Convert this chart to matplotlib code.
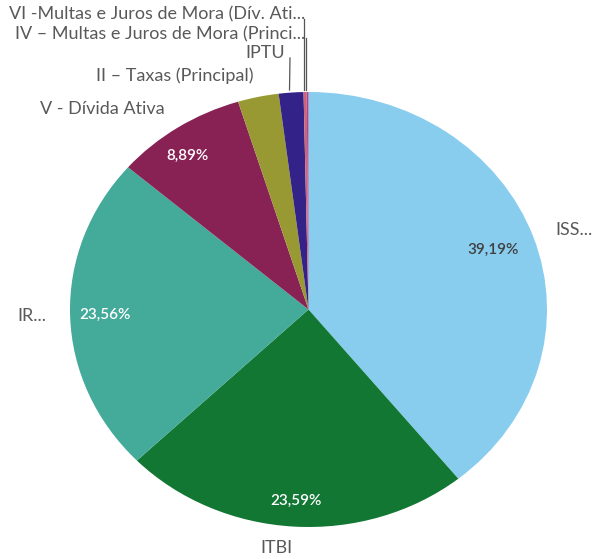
import numpy as np
import matplotlib.pyplot as plt

# receita por origem (%), sentido horario a partir do topo
labels = ["ISS...", "ITBI", "IR...", "V - Dívida Ativa", "II – Taxas (Principal)", "IPTU",
          "IV – Multas e Juros de Mora (Princi...", "VI -Multas e Juros de Mora (Dív. Ati..."]
values = [39.19, 23.59, 23.56, 8.89, 2.77, 1.67, 0.21, 0.12]
colors = ["#88ccee", "#117733", "#44aa99", "#882255", "#999933", "#332288", "#cc6677", "#aa4499"]
pct_colors = ["#404040", "white", "white", "white"]

plt.rcParams['font.family'] = ['Lato', 'DejaVu Sans']
W, H = 598, 559
fig = plt.figure(figsize=(W / 100, H / 100), dpi=100)

# pie esticado (elipse) ocupando a area em pixels
left, right, top, bottom = 70, 547, 92, 527
ax = fig.add_axes([left / W, 1 - bottom / H, (right - left) / W, (bottom - top) / H])
wedges, _ = ax.pie(values, colors=colors, startangle=90, counterclock=False,
                   wedgeprops=dict(linewidth=0))
ax.set_aspect('auto')
ax.set_xlim(-1, 1)
ax.set_ylim(-1, 1)
ax.axis('off')

total = sum(values)
start = 0.0
mids = []
for v in values:
    mids.append(np.deg2rad((start + v / 2) / total * 360))
    start += v

# percentuais dentro das fatias maiores
pct_r = [0.82, 0.88, 0.855, 0.87]
pct_da = [0, 0, 0, -2.5]
for i in range(4):
    a = mids[i] + np.deg2rad(pct_da[i])
    ax.text(pct_r[i] * np.sin(a), pct_r[i] * np.cos(a), f"{values[i]:.2f}%".replace(".", ","),
            ha='center', va='center', fontsize=11, fontweight='semibold', color=pct_colors[i])

gray = "#595959"
fs = 13
# rotulos externos
for i in range(5):
    a = mids[i]
    x, y = 1.1 * np.sin(a), 1.1 * np.cos(a)
    ax.text(x, y, labels[i], ha='left' if x > 0.05 else 'right', va='center',
            fontsize=fs, color=gray, clip_on=False)

# rotulos empilhados das fatias pequenas, com linhas de chamada
def to_data(px, py):
    return (px - left) / (right - left) * 2 - 1, 1 - (py - top) / (bottom - top) * 2

small = [(5, 285, 53, 290, 58), (6, 305, 34, 306, 38), (7, 305, 14, 304, 19)]
for i, tx, ty, lx, ly in small:
    x, y = to_data(tx, ty)
    ax.text(x, y, labels[i], ha='right', va='center', fontsize=fs, color=gray, clip_on=False)
    x0, y0 = to_data(lx, ly)
    x1, y1 = to_data(lx - 0.5 if i == 5 else lx, 90)
    ax.plot([x0, x1], [y0, y1], color="#555555", lw=0.9, clip_on=False)

fig.savefig("out.png", dpi=100)
